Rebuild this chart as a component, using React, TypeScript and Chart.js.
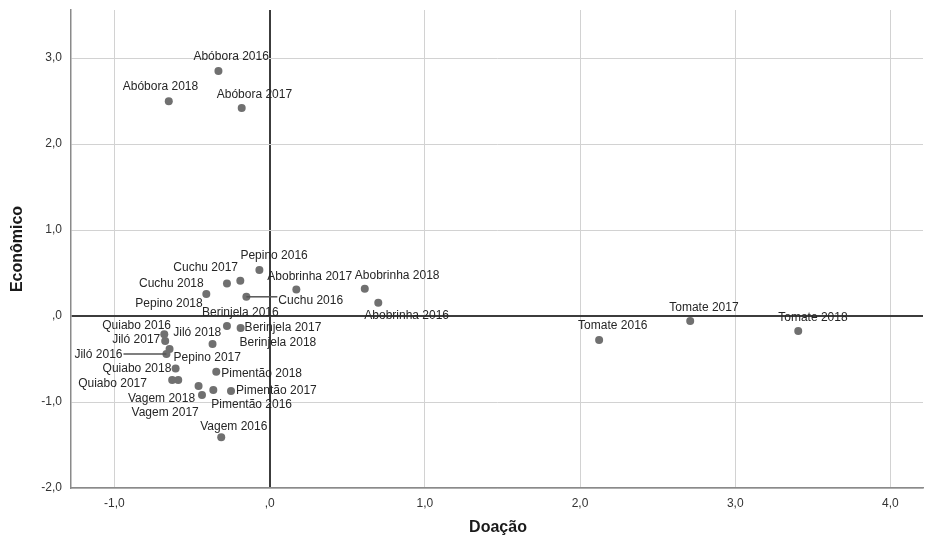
import React, { useEffect, useRef } from "react";
import { Chart, registerables } from "chart.js";

Chart.register(...registerables);

const pointNames = [
  "Abóbora 2016", "Abóbora 2017", "Abóbora 2018",
  "Abobrinha 2016", "Abobrinha 2017", "Abobrinha 2018",
  "Berinjela 2016", "Berinjela 2017", "Berinjela 2018",
  "Cuchu 2016", "Cuchu 2017", "Cuchu 2018",
  "Jiló 2016", "Jiló 2017", "Jiló 2018",
  "Pepino 2016", "Pepino 2017", "Pepino 2018",
  "Pimentão 2016", "Pimentão 2017", "Pimentão 2018",
  "Quiabo 2016", "Quiabo 2017", "Quiabo 2018",
  "Tomate 2016", "Tomate 2017", "Tomate 2018",
  "Vagem 2016", "Vagem 2017", "Vagem 2018",
];

// Doação (x)
const doacao = [
  -0.33, -0.18, -0.65,
  0.70, 0.172, 0.613,
  -0.275, -0.187, -0.368,
  -0.15, -0.189, -0.275,
  -0.665, -0.673, -0.589,
  -0.066, -0.645, -0.408,
  -0.363, -0.249, -0.344,
  -0.679, -0.628, -0.606,
  2.123, 2.71, 3.406,
  -0.312, -0.458, -0.436,
];

// Econômico (y)
const economico = [
  2.85, 2.42, 2.50,
  0.155, 0.31, 0.317,
  -0.116, -0.14, -0.326,
  0.224, 0.41, 0.38,
  -0.442, -0.291, -0.744,
  0.535, -0.384, 0.256,
  -0.86, -0.872, -0.648,
  -0.213, -0.744, -0.61,
  -0.279, -0.058, -0.174,
  -1.41, -0.814, -0.919,
];

const xTickValues = [-1, 0, 1, 2, 3, 4];
const xTickLabels = ["-1,0", ",0", "1,0", "2,0", "3,0", "4,0"];
const yTickValues = [-2, -1, 0, 1, 2, 3];
const yTickLabels = ["-2,0", "-1,0", ",0", "1,0", "2,0", "3,0"];

const xTitle = "Doação";
const yTitle = "Econômico";

// label placement (style): offset of label left edge / vertical centre from point, in px
const labelDx = [
  -25, -25, -46,
  -14, -29, -10,
  -25, 4, 27,
  32, -67, -88,
  -92, -53, -5,
  -19, 4, -71,
  -2, 5, 5,
  -62, -94, -73,
  -21, -21, -20,
  -21, -67, -74,
];
const labelDy = [
  -14, -13, -14,
  13, -13, -13,
  -13, 0, -1,
  4, -13, 0,
  1, -1, -47,
  -14, 9, 10,
  15, 0, 2,
  -9, 4, 0,
  -14, -13, -13,
  -11, 27, 4,
];
const leaderLines: Record<number, string> = { 9: "toLabelLeft", 12: "toLabelRight" };

const LABEL_FONT = '12px "Liberation Sans", Arial, sans-serif';

const labelPlugin = {
  id: "pointLabels",
  afterDatasetsDraw(chart: any) {
    const { ctx, scales } = chart;
    const xs = scales.x;
    const ys = scales.y;
    ctx.save();
    ctx.font = LABEL_FONT;
    ctx.textBaseline = "middle";
    ctx.textAlign = "left";
    pointNames.forEach((name, i) => {
      const px = xs.getPixelForValue(doacao[i]);
      const py = ys.getPixelForValue(economico[i]);
      const lx = px + labelDx[i];
      const ly = py + labelDy[i];
      const w = ctx.measureText(name).width;
      const leader = leaderLines[i];
      if (leader) {
        ctx.strokeStyle = "#555555";
        ctx.lineWidth = 1.5;
        ctx.beginPath();
        if (leader === "toLabelLeft") {
          ctx.moveTo(px, py);
          ctx.lineTo(lx - 1, py);
        } else {
          ctx.moveTo(lx + w + 1, py);
          ctx.lineTo(px, py);
        }
        ctx.stroke();
      }
      ctx.fillStyle = "#262626";
      ctx.fillText(name, lx, ly);
    });
    ctx.restore();
  },
};

const titlePlugin = {
  id: "axisTitles",
  afterDraw(chart: any) {
    const { ctx, chartArea } = chart;
    ctx.save();
    ctx.font = 'bold 16px "Liberation Sans", Arial, sans-serif';
    ctx.fillStyle = "#1a1a1a";
    ctx.textAlign = "center";
    ctx.textBaseline = "middle";
    ctx.fillText(xTitle, 498, 528);
    ctx.translate(18, (chartArea.top + chartArea.bottom) / 2);
    ctx.rotate(-Math.PI / 2);
    ctx.fillText(yTitle, 0, 0);
    ctx.restore();
  },
};

export default function App() {
  const ref = useRef<HTMLCanvasElement | null>(null);

  useEffect(() => {
    if (!ref.current) return;
    const chart = new Chart(ref.current, {
      type: "scatter",
      data: {
        datasets: [
          {
            data: doacao.map((x, i) => ({ x, y: economico[i] })),
            backgroundColor: "#707070",
            borderWidth: 0,
            pointRadius: 4,
            pointHoverRadius: 4,
          },
        ],
      },
      options: {
        animation: false,
        responsive: false,
        maintainAspectRatio: false,
        layout: { padding: { top: 10, right: 1, left: 0, bottom: 0 } },
        plugins: {
          legend: { display: false },
          tooltip: { enabled: false },
          title: { display: false },
        },
        scales: {
          x: {
            type: "linear",
            min: -1.28,
            max: 4.21,
            afterBuildTicks: (scale: any) => {
              scale.ticks = xTickValues.map((v) => ({ value: v }));
            },
            afterFit: (scale: any) => {
              scale.height = 53;
              scale.paddingLeft = 0;
              scale.paddingRight = 0;
            },
            ticks: {
              callback: (v: any) => {
                const idx = xTickValues.indexOf(Number(v));
                return idx >= 0 ? xTickLabels[idx] : "";
              },
              font: { family: '"Liberation Sans", Arial, sans-serif', size: 12 },
              color: "#333333",
              padding: 8,
              maxRotation: 0,
            },
            grid: {
              drawTicks: false,
              color: (c: any) => (c.tick && c.tick.value === 0 ? "#3c3c3c" : "#d2d2d2"),
              lineWidth: (c: any) => (c.tick && c.tick.value === 0 ? 2 : 1),
            },
            border: { color: "#8a8a8a", width: 1.5 },
          },
          y: {
            type: "linear",
            min: -2,
            max: 3.56,
            afterBuildTicks: (scale: any) => {
              scale.ticks = yTickValues.map((v) => ({ value: v }));
            },
            afterFit: (scale: any) => {
              scale.width = 71;
              scale.paddingTop = 0;
              scale.paddingBottom = 0;
            },
            ticks: {
              callback: (v: any) => {
                const idx = yTickValues.indexOf(Number(v));
                return idx >= 0 ? yTickLabels[idx] : "";
              },
              font: { family: '"Liberation Sans", Arial, sans-serif', size: 12 },
              color: "#333333",
              padding: 9,
            },
            grid: {
              drawTicks: false,
              color: (c: any) => (c.tick && c.tick.value === 0 ? "#3c3c3c" : "#d2d2d2"),
              lineWidth: (c: any) => (c.tick && c.tick.value === 0 ? 2 : 1),
            },
            border: { color: "#8a8a8a", width: 1.5 },
          },
        },
      },
      plugins: [labelPlugin, titlePlugin],
    });
    return () => chart.destroy();
  }, []);

  return (
    <div style={{ position: "fixed", left: 0, top: 0, width: 927, height: 541, background: "#ffffff" }}>
      <canvas ref={ref} width={927} height={541} style={{ display: "block" }} />
    </div>
  );
}
